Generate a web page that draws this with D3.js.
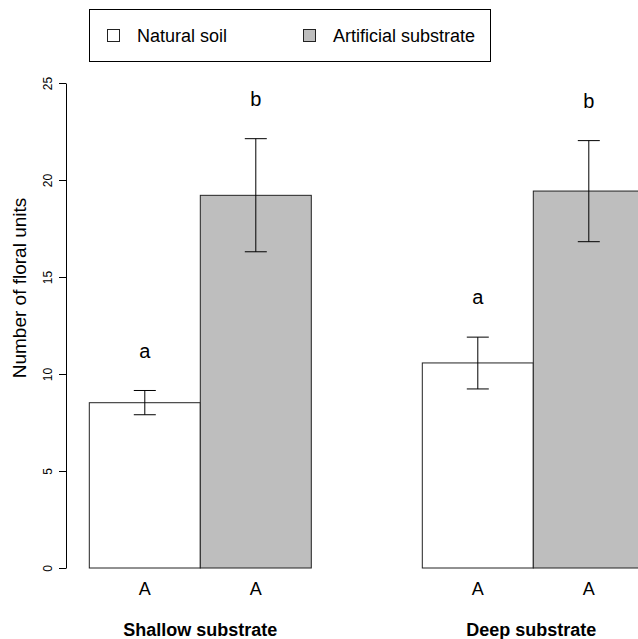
<!DOCTYPE html>
<html>
<head>
<meta charset="utf-8">
<script src="https://cdn.jsdelivr.net/npm/d3@7"></script>
<style>
  body { margin: 0; background: #fff; }
  text { font-family: "Liberation Sans", Arial, Helvetica, sans-serif; fill: #000; }
</style>
</head>
<body>
<div id="chart"></div>
<script>
// data
const groups = ["Shallow substrate", "Deep substrate"];
const types = ["Natural soil", "Artificial substrate"];
const means = [[8.52, 19.21], [10.57, 19.43]];
const upper = [[9.15, 22.13], [11.9, 22.03]];
const lower = [[7.9, 16.3], [9.23, 16.82]];
const letters = [["a", "b"], ["a", "b"]];
const tickLabels = ["A", "A"];
const yTicks = [0, 5, 10, 15, 20, 25];

const width = 638, height = 639;
const fills = ["#ffffff", "#bebebe"];

const svg = d3.select("#chart").append("svg")
    .attr("width", width)
    .attr("height", height);

// scales
const x0 = d3.scaleBand()
    .domain(groups)
    .range([89.3, 644.3])
    .paddingInner(1 / 3)
    .paddingOuter(0);

const x1 = d3.scaleBand()
    .domain(types)
    .range([0, x0.bandwidth()]);

const y = d3.scaleLinear()
    .domain([0, 25])
    .range([568, 83]);

const color = d3.scaleOrdinal().domain(types).range(fills);

// y axis
const yAxis = svg.append("g")
    .attr("transform", "translate(66,0)")
    .call(d3.axisLeft(y).tickValues(yTicks).tickSize(7).tickSizeOuter(0));
yAxis.select(".domain").attr("stroke", "#000");
yAxis.selectAll(".tick line").attr("stroke", "#000");
yAxis.selectAll(".tick text")
    .attr("x", 0).attr("y", 0).attr("dy", null)
    .attr("transform", "translate(-14,0) rotate(-90)")
    .attr("text-anchor", "middle")
    .style("font-size", "12px");

svg.append("text")
    .attr("transform", "translate(26,288) rotate(-90)")
    .attr("text-anchor", "middle")
    .style("font-size", "19px")
    .text("Number of floral units");

// bars
const rows = [];
groups.forEach((g, i) => types.forEach((t, j) => rows.push({
    g, t, mean: means[i][j], hi: upper[i][j], lo: lower[i][j],
    letter: letters[i][j], tick: tickLabels[j]
})));

const cx = d => x0(d.g) + x1(d.t) + x1.bandwidth() / 2;

svg.append("g").selectAll("rect")
    .data(rows)
    .join("rect")
    .attr("x", d => x0(d.g) + x1(d.t))
    .attr("y", d => y(d.mean))
    .attr("width", x1.bandwidth())
    .attr("height", d => y(0) - y(d.mean))
    .attr("fill", d => color(d.t))
    .attr("stroke", "#222")
    .attr("stroke-width", 1);

// error bars
const err = svg.append("g").attr("stroke", "#000").attr("stroke-width", 1);
rows.forEach(d => {
    err.append("line").attr("x1", cx(d)).attr("x2", cx(d)).attr("y1", y(d.hi)).attr("y2", y(d.lo));
    err.append("line").attr("x1", cx(d) - 11).attr("x2", cx(d) + 11).attr("y1", y(d.hi)).attr("y2", y(d.hi));
    err.append("line").attr("x1", cx(d) - 11).attr("x2", cx(d) + 11).attr("y1", y(d.lo)).attr("y2", y(d.lo));
});

// significance letters
svg.append("g").selectAll("text")
    .data(rows)
    .join("text")
    .attr("x", cx)
    .attr("y", d => y(d.hi + 2))
    .attr("dy", "0.3em")
    .attr("text-anchor", "middle")
    .style("font-size", "20px")
    .text(d => d.letter);

// bar tick labels
svg.append("g").selectAll("text")
    .data(rows)
    .join("text")
    .attr("x", cx)
    .attr("y", 595)
    .attr("text-anchor", "middle")
    .style("font-size", "18px")
    .text(d => d.tick);

// group labels
svg.append("g").selectAll("text")
    .data(groups)
    .join("text")
    .attr("x", (g, i) => x0(g) + x0.bandwidth() / 2 - (i === 1 ? 2 : 0))
    .attr("y", 636)
    .attr("text-anchor", "middle")
    .style("font-size", "18px")
    .style("font-weight", "bold")
    .text(g => g);

// legend
const legend = svg.append("g");
legend.append("rect")
    .attr("x", 89.5).attr("y", 9.5)
    .attr("width", 401).attr("height", 52)
    .attr("fill", "none").attr("stroke", "#000");

const legendX = [107, 303];
types.forEach((t, i) => {
    legend.append("rect")
        .attr("x", legendX[i] + 0.5).attr("y", 29.5)
        .attr("width", 12).attr("height", 12)
        .attr("fill", color(t)).attr("stroke", "#222");
    legend.append("text")
        .attr("x", legendX[i] + 30).attr("y", 42)
        .style("font-size", "18px")
        .text(t);
});
</script>
</body>
</html>
